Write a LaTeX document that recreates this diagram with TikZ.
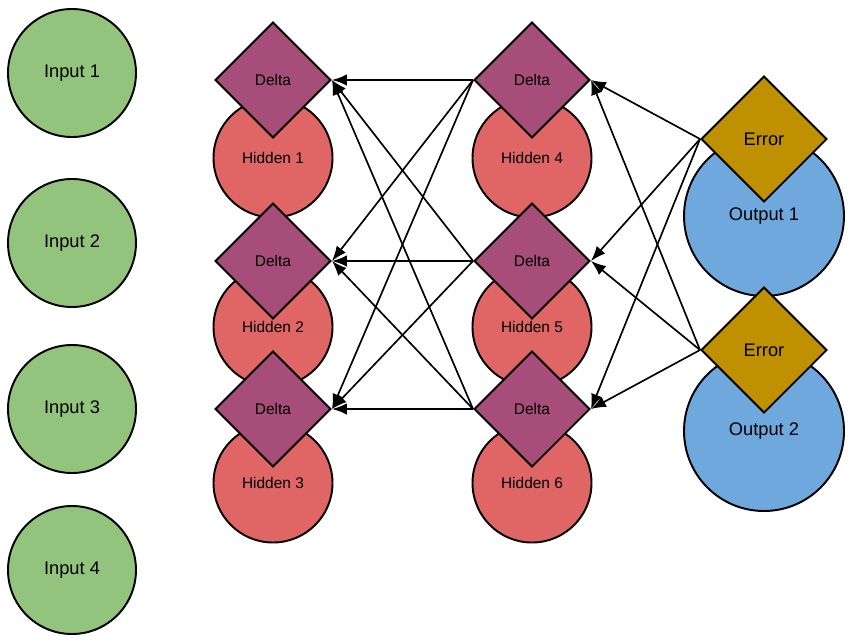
\documentclass[tikz,border=0pt]{standalone}
\usepackage{fontspec}
\setmainfont{Liberation Sans}
\usepackage{tikz}
\usetikzlibrary{shapes.geometric,arrows.meta}
\usepackage{xcolor}

\definecolor{inputgreen}{HTML}{93C47D}
\definecolor{hiddenred}{HTML}{E06666}
\definecolor{deltapurple}{HTML}{A64D79}
\definecolor{outputblue}{HTML}{6FA8DC}
\definecolor{errorgold}{HTML}{BF9000}

\tikzset{
  inputnode/.style = {circle, draw=black, line width=1.1pt, fill=inputgreen, minimum size=25.6mm, inner sep=0pt, font=\fontsize{10.4}{12}\selectfont},
  hiddennode/.style = {circle, draw=black, line width=1.1pt, fill=hiddenred, minimum size=23.8mm, inner sep=0pt, font=\fontsize{8.8}{10}\selectfont},
  deltanode/.style = {diamond, aspect=1, draw=black, line width=1.1pt, fill=deltapurple, minimum size=23.2mm, inner sep=0pt, font=\fontsize{8.8}{10}\selectfont},
  outputnode/.style = {circle, draw=black, line width=1.1pt, fill=outputblue, minimum size=32mm, inner sep=0pt, font=\fontsize{10.4}{12}\selectfont},
  errornode/.style = {diamond, aspect=1, draw=black, line width=1.1pt, fill=errorgold, minimum size=25.2mm, inner sep=0pt, font=\fontsize{10.4}{12}\selectfont},
  backprop/.style = {-{Latex[length=8.5pt,width=6.5pt]}, line width=0.95pt, black}
}

\begin{document}
\begin{tikzpicture}[x=0.2mm, y=-0.2mm]
\useasboundingbox (0,0) rectangle (863,643);
% input layer
\node[inputnode] (in1) at (72,73) {Input 1};
\node[inputnode] (in2) at (72,243) {Input 2};
\node[inputnode] (in3) at (72,409) {Input 3};
\node[inputnode] (in4) at (72,570) {Input 4};
% hidden layers
\node[hiddennode] (hid1) at (273,158) {Hidden 1};
\node[hiddennode] (hid2) at (273,327) {Hidden 2};
\node[hiddennode] (hid3) at (273,483) {Hidden 3};
\node[hiddennode] (hid4) at (532,158) {Hidden 4};
\node[hiddennode] (hid5) at (532,327) {Hidden 5};
\node[hiddennode] (hid6) at (532,483) {Hidden 6};
% output layer
\node[outputnode] (out1) at (764,216) {Output 1};
\node[outputnode] (out2) at (764,431) {Output 2};
% deltas and errors on top
\node[deltanode] (del1) at (273,80) {Delta};
\node[deltanode] (del2) at (273,261) {Delta};
\node[deltanode] (del3) at (273,409) {Delta};
\node[deltanode] (del4) at (532,80) {Delta};
\node[deltanode] (del5) at (532,261) {Delta};
\node[deltanode] (del6) at (532,409) {Delta};
\node[errornode] (err1) at (764,139) {Error};
\node[errornode] (err2) at (764,350) {Error};
% errors back to second hidden layer
\draw[backprop] (err1.west) -- (del4.east);
\draw[backprop] (err1.west) -- (del5.east);
\draw[backprop] (err1.west) -- (del6.east);
\draw[backprop] (err2.west) -- (del4.east);
\draw[backprop] (err2.west) -- (del5.east);
\draw[backprop] (err2.west) -- (del6.east);
% second hidden layer back to first
\draw[backprop] (del4.west) -- (del1.east);
\draw[backprop] (del4.west) -- (del2.east);
\draw[backprop] (del4.west) -- (del3.east);
\draw[backprop] (del5.west) -- (del1.east);
\draw[backprop] (del5.west) -- (del2.east);
\draw[backprop] (del5.west) -- (del3.east);
\draw[backprop] (del6.west) -- (del1.east);
\draw[backprop] (del6.west) -- (del2.east);
\draw[backprop] (del6.west) -- (del3.east);
\end{tikzpicture}
\end{document}
